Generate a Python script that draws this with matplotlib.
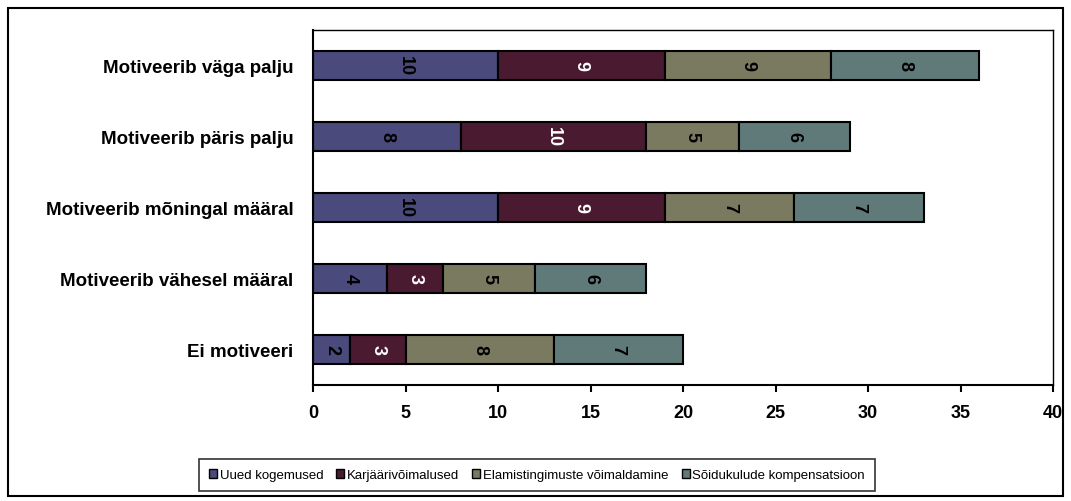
import matplotlib
matplotlib.use('agg')
import matplotlib.pyplot as plt
from matplotlib.patches import Rectangle
import numpy as np

plt.rcParams['font.family'] = ['Liberation Sans', 'DejaVu Sans']

categories = ["Motiveerib väga palju", "Motiveerib päris palju",
              "Motiveerib mõningal määral", "Motiveerib vähesel määral",
              "Ei motiveeri"]
series = ["Uued kogemused", "Karjäärivõimalused",
          "Elamistingimuste võimaldamine", "Sõidukulude kompensatsioon"]
uued = [10, 8, 10, 4, 2]
karjaar = [9, 10, 9, 3, 3]
elamis = [9, 5, 7, 5, 8]
soidu = [8, 6, 7, 6, 7]

colors = ["#4a4a7c", "#4a1a30", "#7a7a60", "#607a7a"]
text_colors = ["black", "white", "black", "black"]

fig = plt.figure(figsize=(10.71, 5.02), dpi=100)
ax = fig.add_axes([313 / 1071, 116 / 502, 740 / 1071, 355 / 502])

y = np.arange(len(categories))
left = np.zeros(len(categories))
for vals, name, col, tcol in zip([uued, karjaar, elamis, soidu], series,
                                 colors, text_colors):
    vals = np.array(vals, dtype=float)
    bars = ax.barh(y, vals, left=left, height=0.4, color=col,
                   edgecolor="black", linewidth=1.5, label=name)
    for b, v in zip(bars, vals):
        ax.text(b.get_x() + b.get_width() / 2, b.get_y() + b.get_height() / 2,
                "%d" % v, rotation=-90, ha="center", va="center",
                fontsize=13, fontweight="bold", color=tcol)
    left += vals

ax.set_xlim(0, 40)
ax.set_ylim(len(categories) - 0.5, -0.5)
ax.set_xticks(range(0, 41, 5))
ax.set_yticks(y)
ax.set_yticklabels(categories, fontsize=13.5, fontweight="bold")
for lab in ax.get_xticklabels():
    lab.set_fontsize(13)
    lab.set_fontweight("bold")
ax.tick_params(axis="y", length=0, pad=14)
ax.tick_params(axis="x", direction="out", length=5, width=1.5, pad=9)
for s in ["left", "bottom"]:
    ax.spines[s].set_linewidth(1.5)
for s in ["top", "right"]:
    ax.spines[s].set_linewidth(1.0)

leg = fig.legend(loc="center", bbox_to_anchor=(537 / 1071, 1 - 476 / 502),
                 ncol=4, fontsize=9.5, frameon=True, fancybox=False,
                 handlelength=0.6, handleheight=0.6, handletextpad=0.2,
                 columnspacing=1.0, borderpad=0.75)
leg.get_frame().set_edgecolor("black")
leg.get_frame().set_linewidth(1.2)
for h in leg.legend_handles:
    h.set_linewidth(1.0)

# outer chart border
fig.patches.append(Rectangle((8 / 1071, 5 / 502), 1055 / 1071, 488 / 502,
                             transform=fig.transFigure, fill=False,
                             edgecolor="black", linewidth=1.5))

fig.savefig("out.png", dpi=100)
